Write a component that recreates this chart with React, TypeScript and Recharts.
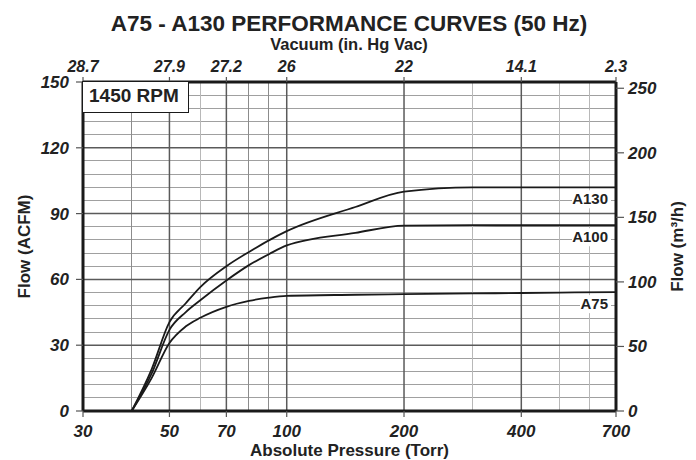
import { LineChart, Line, XAxis, YAxis, ReferenceLine } from 'recharts';

const FONT = '"Liberation Sans", Arial, sans-serif';
const INK = '#1a1a1a';

// pressure points (Torr) where the curves were read
const TORR = [40, 45, 50, 55, 60, 70, 80, 90, 100, 150, 200, 300, 400, 500, 700];
// flow in ACFM
const A130 = [0, 19, 40.5, 49, 56.5, 66, 72.5, 77.8, 82, 93, 100, 102, 102, 102, 102];
const A100 = [0, 17, 37, 45, 50.5, 59.5, 66.5, 71.5, 75.5, 81.2, 84.5, 84.7, 84.7, 84.7, 84.7];
const A75 = [0, 15, 31, 38.5, 42.5, 47.5, 50.2, 51.7, 52.5, 53, 53.3, 53.6, 53.8, 54, 54.2];

const TORR_TICKS = [30, 50, 70, 100, 200, 400, 700];
const VACUUM_LABELS = ['28.7', '27.9', '27.2', '26', '22', '14.1', '2.3'];
const ACFM_TICKS = [0, 30, 60, 90, 120, 150];
const M3H_TICKS = [0, 50, 100, 150, 200, 250];

// grid
const MAJOR_TORR = [50, 70, 100, 200, 400];
const MID_TORR = [40, 80, 90];
const LIGHT_TORR = [60, 300, 500, 600];
const MAJOR_ACFM = [30, 60, 90, 120];
const MINOR_ACFM = [6, 12, 18, 24, 36, 42, 48, 54, 66, 72, 78, 84, 96, 102, 108, 114, 126, 132, 138, 144];

const rows = TORR.map((t, i) => ({ torr: t, a130: A130[i], a100: A100[i], a75: A75[i] }));

const tickStyle = { fontFamily: FONT, fontWeight: 'bold', fontStyle: 'italic', fill: '#222' };
const titleStyle = { fontFamily: FONT, fontWeight: 'bold', fill: '#222', fontSize: 17 };

function curveLabel(name: string, boxW: number) {
    return (props: any) => {
        const { x, y, index } = props;
        if (index !== TORR.length - 1) return null;
        return (
            <g>
                <rect x={x - 8 - boxW} y={y + 3} width={boxW + 3} height={18} fill="#fff" />
                <text
                    x={x - 8}
                    y={y + 17}
                    textAnchor="end"
                    fontFamily={FONT}
                    fontWeight="bold"
                    fontSize={15}
                    fill="#222"
                >
                    {name}
                </text>
            </g>
        );
    };
}

export default function App() {
    return (
        <div style={{ position: 'absolute', left: 0, top: 0, width: 696, height: 460 }}>
            <LineChart width={696} height={460} data={rows} margin={{ top: 0, right: 0, bottom: 0, left: 0 }}>
                <XAxis
                    xAxisId="bottom"
                    dataKey="torr"
                    type="number"
                    scale="log"
                    domain={[30, 700]}
                    allowDataOverflow
                    ticks={TORR_TICKS}
                    height={49}
                    tickSize={6}
                    tickMargin={8}
                    axisLine={{ stroke: INK, strokeWidth: 3 }}
                    tickLine={{ stroke: '#555', strokeWidth: 1.2 }}
                    tick={{ ...tickStyle, fontSize: 17 }}
                    label={{ value: 'Absolute Pressure (Torr)', position: 'insideBottom', offset: 4, style: titleStyle }}
                />
                <XAxis
                    xAxisId="top"
                    orientation="top"
                    dataKey="torr"
                    type="number"
                    scale="log"
                    domain={[30, 700]}
                    allowDataOverflow
                    ticks={TORR_TICKS}
                    tickFormatter={(v) => VACUUM_LABELS[TORR_TICKS.indexOf(v)]}
                    height={82}
                    tickSize={5}
                    tickMargin={5}
                    axisLine={{ stroke: INK, strokeWidth: 3 }}
                    tickLine={{ stroke: '#555', strokeWidth: 1.2 }}
                    tick={{ ...tickStyle, fontSize: 16 }}
                />
                <YAxis
                    yAxisId="acfm"
                    domain={[0, 150]}
                    ticks={ACFM_TICKS}
                    width={83}
                    tickSize={7}
                    tickMargin={7}
                    axisLine={{ stroke: INK, strokeWidth: 3 }}
                    tickLine={{ stroke: '#555', strokeWidth: 1.2 }}
                    tick={{ ...tickStyle, fontSize: 17 }}
                    label={{
                        value: 'Flow (ACFM)',
                        angle: -90,
                        position: 'insideLeft',
                        offset: 24,
                        style: { ...titleStyle, textAnchor: 'middle' },
                    }}
                />
                <YAxis
                    yAxisId="m3h"
                    orientation="right"
                    domain={[0, 254.85]}
                    allowDataOverflow
                    ticks={M3H_TICKS}
                    width={80}
                    tickSize={8}
                    tickMargin={4}
                    axisLine={{ stroke: INK, strokeWidth: 3 }}
                    tickLine={{ stroke: '#555', strokeWidth: 1.2 }}
                    tick={{ ...tickStyle, fontSize: 17 }}
                    label={{
                        value: 'Flow (m³/h)',
                        angle: -90,
                        position: 'insideRight',
                        offset: 19,
                        style: { ...titleStyle, textAnchor: 'middle' },
                    }}
                />

                {MINOR_ACFM.map((v) => (
                    <ReferenceLine
                        key={'hm' + v}
                        xAxisId="bottom"
                        yAxisId="acfm"
                        y={v}
                        stroke="#a0a0a0"
                        strokeWidth={1}
                        shapeRendering="crispEdges"
                    />
                ))}
                {LIGHT_TORR.map((v) => (
                    <ReferenceLine
                        key={'vl' + v}
                        xAxisId="bottom"
                        yAxisId="acfm"
                        x={v}
                        stroke="#b8b8b8"
                        strokeWidth={1}
                        shapeRendering="crispEdges"
                    />
                ))}
                {MID_TORR.map((v) => (
                    <ReferenceLine
                        key={'vm' + v}
                        xAxisId="bottom"
                        yAxisId="acfm"
                        x={v}
                        stroke="#8c8c8c"
                        strokeWidth={1}
                        shapeRendering="crispEdges"
                    />
                ))}
                {MAJOR_ACFM.map((v) => (
                    <ReferenceLine key={'hM' + v} xAxisId="bottom" yAxisId="acfm" y={v} stroke="#5a5a5a" strokeWidth={1.5} />
                ))}
                {MAJOR_TORR.map((v) => (
                    <ReferenceLine key={'vM' + v} xAxisId="bottom" yAxisId="acfm" x={v} stroke="#5a5a5a" strokeWidth={1.5} />
                ))}

                <Line
                    xAxisId="bottom"
                    yAxisId="acfm"
                    dataKey="a130"
                    type="monotone"
                    stroke={INK}
                    strokeWidth={1.8}
                    dot={false}
                    isAnimationActive={false}
                    label={curveLabel('A130', 36)}
                />
                <Line
                    xAxisId="bottom"
                    yAxisId="acfm"
                    dataKey="a100"
                    type="monotone"
                    stroke={INK}
                    strokeWidth={1.8}
                    dot={false}
                    isAnimationActive={false}
                    label={curveLabel('A100', 36)}
                />
                <Line
                    xAxisId="bottom"
                    yAxisId="acfm"
                    dataKey="a75"
                    type="monotone"
                    stroke={INK}
                    strokeWidth={1.8}
                    dot={false}
                    isAnimationActive={false}
                    label={curveLabel('A75', 28)}
                />

                <text x={349} y={31} textAnchor="middle" fontFamily={FONT} fontWeight="bold" fontSize={22.5} fill="#222">
                    A75 - A130 PERFORMANCE CURVES (50 Hz)
                </text>
                <text x={349} y={50} textAnchor="middle" fontFamily={FONT} fontWeight="bold" fontSize={16.5} fill="#222">
                    Vacuum (in. Hg Vac)
                </text>
            </LineChart>
            <div
                style={{
                    position: 'absolute',
                    left: 82,
                    top: 81,
                    width: 107,
                    height: 32,
                    boxSizing: 'border-box',
                    border: '1.5px solid ' + INK,
                    background: '#fff',
                    fontFamily: FONT,
                    fontWeight: 'bold',
                    fontSize: 19,
                    lineHeight: '28px',
                    paddingLeft: 6,
                    color: '#222',
                }}
            >
                1450 RPM
            </div>
        </div>
    );
}
